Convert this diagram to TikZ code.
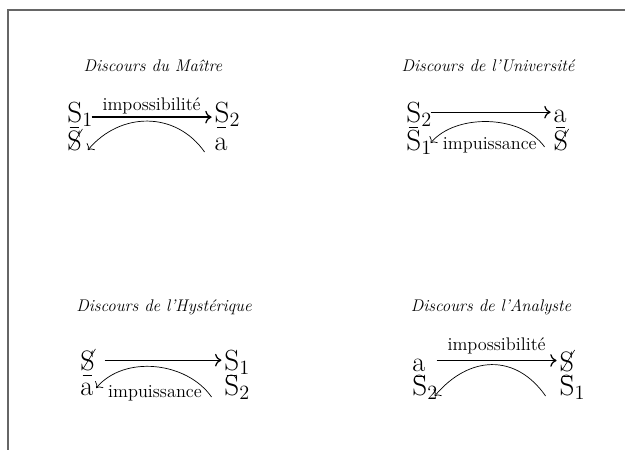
\documentclass[tikz,border=0pt]{standalone}
\usepackage{graphicx}
\usetikzlibrary{arrows.meta}
\newcommand{\barS}{\rlap{\hspace{1.5pt}\raisebox{0.5pt}{\rotatebox{58}{\rule{17pt}{0.4pt}}}}S}
\newcommand{\ubar}{\rlap{\smash{\hspace{1.5pt}\rule[-4.3pt]{6.5pt}{0.6pt}}}}

\begin{document}
\begin{tikzpicture}[x=0.025cm,y=-0.025cm]
    \tikzset{
      title/.style={font=\itshape\fontsize{12}{14}\selectfont},
      term/.style={font=\fontsize{20}{24}\selectfont, text width=15pt, align=left, inner xsep=2pt, inner ysep=0pt, text height=14pt, text depth=4pt, node distance=3.68cm},
      lower/.style={term, node distance=0.7cm},
      word/.style={font=\fontsize{13}{15}\selectfont, inner sep=1pt},
      line/.style={draw, line width=0.9pt, -{To[length=4.5pt,width=9pt]}},
      back/.style={draw, line width=0.5pt, -{To[length=3.5pt,width=7.5pt]}}
    }
    \useasboundingbox (0,0) rectangle (625,450);
    \draw [line width=1.1pt, black!60] (625,10) -- (8,10) -- (8,450);

    % maitre
    \node [title] (titleM) at (153,66) {Discours du Ma\^itre};
    \node [term] (agentM) at (78,115) {\ubar$\mathrm{S}_1$};
    \node [term, right of = agentM] (otherM) {\ubar$\mathrm{S}_2$};
    \node [lower, below of = agentM] (truthM) {\barS};
    \node [lower, below of = otherM] (prodM) {a};
    \path [line] ([yshift=-1.5pt]agentM.east)--([yshift=-1.5pt]otherM.west) node [word, midway, above=1pt] {impossibilit\'e};
    \path [back] ([xshift=-5pt,yshift=-6.4pt]prodM.west) to [out=125, in=50, looseness=1.1] ([xshift=-2.7pt,yshift=-5pt]truthM.east);

    % universite
    \node [title] (titleU) at (488,66) {Discours de l'Universit\'e};
    \node [term] (agentU) at (417,115) {\ubar$\mathrm{S}_2$};
    \node [term, right of = agentU] (otherU) {\ubar a};
    \node [lower, below of = agentU] (truthU) {$\mathrm{S}_1$};
    \node [lower, below of = otherU] (prodU) {\barS};
    \node [word, node distance=1.82cm, right of = truthU, yshift=-1.8pt] (labU) {impuissance};
    \path [line] ([yshift=2pt]agentU.east)--([yshift=2pt]otherU.west);
    \path [back] ([xshift=-4.3pt,yshift=-2.8pt]prodU.west) to [out=125, in=50, looseness=0.88] (truthU.east);

    % hysterique
    \node [title] (titleH) at (164,307) {Discours de l'Hyst\'erique};
    \node [term] (agentH) at (91,363) {\ubar\barS};
    \node [term, node distance=3.6cm, right of = agentH] (otherH) {\ubar$\mathrm{S}_1$};
    \node [lower, node distance=0.625cm, below of = agentH] (truthH) {a};
    \node [lower, node distance=0.625cm, below of = otherH] (prodH) {$\mathrm{S}_2$};
    \node [word, node distance=1.6cm, right of = truthH, yshift=-4pt] (labH) {impuissance};
    \path [line] ([yshift=2pt]agentH.east)--([yshift=2pt]otherH.west);
    \path [back] ([xshift=-7pt,yshift=-6.4pt]prodH.west) to [out=125, in=50, looseness=0.96] ([xshift=-6pt]truthH.east);

    % analyste
    \node [title] (titleA) at (491,307) {Discours de l'Analyste};
    \node [term] (agentA) at (423,364) {\ubar a};
    \node [term, right of = agentA] (otherA) {\ubar\barS};
    \node [lower, node distance=0.6cm, below of = agentA] (truthA) {$\mathrm{S}_2$};
    \node [lower, node distance=0.6cm, below of = otherA] (prodA) {$\mathrm{S}_1$};
    \path [line] ([yshift=2.5pt]agentA.east)--([yshift=2.5pt]otherA.west) node [word, midway, above=3pt] {impossibilit\'e};
    \path [back] ([xshift=-7.8pt,yshift=-5.7pt]prodA.west) to [out=125, in=50, looseness=1.22] ([xshift=-1.4pt,yshift=-5.7pt]truthA.east);
\end{tikzpicture}
\end{document}
